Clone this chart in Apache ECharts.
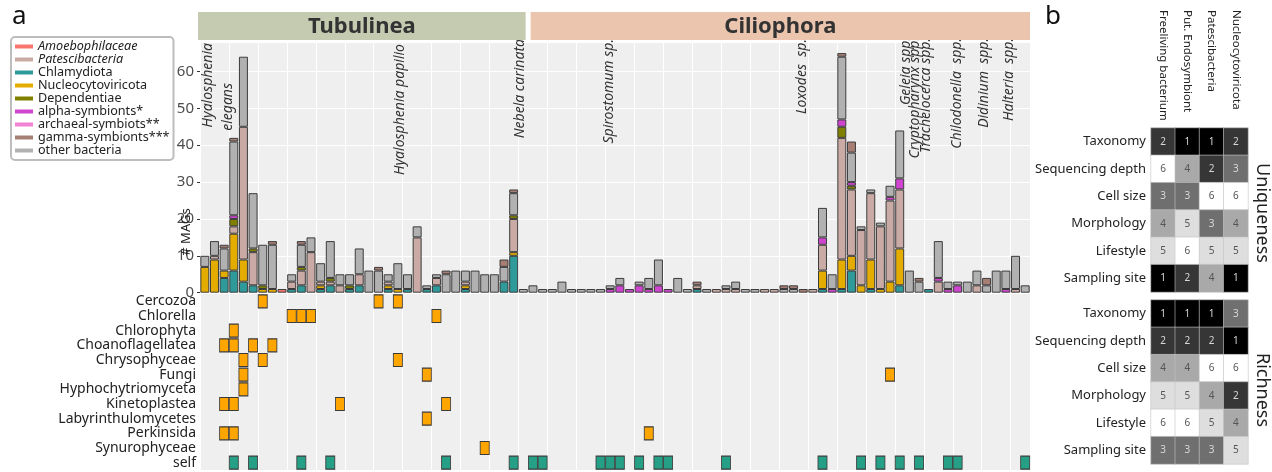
<!DOCTYPE html>
<html>
<head>
<meta charset="utf-8">
<script src="https://cdn.jsdelivr.net/npm/echarts@6/dist/echarts.min.js"></script>
<style>
  html, body { margin: 0; padding: 0; background: #fff; }
  #chart { width: 1272px; height: 472px; }
</style>
</head>
<body>
<div id="chart"></div>
<script>
// ---- panel a: MAG counts per sample (86 samples) ----
const samples = Array.from({ length: 86 }, (_, i) => 'S' + (i + 1));

const amoebophilaceae = [0,0,0,0,0,0,0,0,1,0, 0,0,0,0,0,0,0,0,0,0, 0,0,0,0,0,0,0,0,0,0, 0,0,0,0,0,0,0,0,0,0,
  0,0,0,0,0,0,0,0,0,0, 0,0,0,0,0,0,0,0,0,0, 0,0,0,0,0,0,0,0,0,0, 0,0,0,0,0,0,0,0,0,0, 0,0,0,0,0,0];
const chlamydiota = [0,0,4,6,3,2,0,0,0,1, 2,0,1,2,0,1,2,0,0,1, 0,1,0,1,2,0,0,1,0,0, 0,3,10,0,0,0,0,0,0,0,
  0,0,0,0,0,0,0,0,0,0, 0,1,0,0,0,0,0,0,0,0, 0,0,0,0,1,0,1,6,0,1, 0,0,2,0,0,1,0,0,0,0, 0,0,0,0,0,0];
const nucleocytoviricota = [7,9,2,10,6,0,1,1,0,0, 0,0,1,0,0,0,0,0,0,1, 1,0,0,0,0,0,0,1,0,0, 0,0,1,0,0,0,0,0,0,0,
  0,0,0,0,0,0,0,0,0,0, 0,0,0,0,0,0,0,0,0,0, 0,0,0,0,5,0,8,4,2,8, 1,3,10,0,0,0,0,0,0,0, 0,0,0,0,0,0];
const patescibacteria = [0,1,0,2,36,9,0,0,0,2, 4,11,1,1,2,0,3,0,0,1, 0,0,15,0,2,0,0,1,0,0, 0,0,9,0,0,0,0,0,0,0,
  0,0,0,0,0,0,0,0,0,0, 0,1,0,1,1,1,0,0,1,1, 0,0,0,1,7,0,33,18,15,18, 17,22,16,0,0,0,3,0,0,0, 2,0,0,0,1,0];
const dependentiae = [0,0,0,2,0,1,1,0,0,0, 1,0,0,1,0,1,0,0,0,0, 0,0,0,0,0,0,0,0,0,0, 0,0,1,0,0,0,0,0,0,0,
  0,0,0,0,0,0,0,0,0,0, 0,0,0,0,0,0,0,0,0,0, 0,0,0,0,0,0,3,1,0,0, 0,0,0,0,0,0,0,0,0,0, 0,0,0,0,0,0];
const alphaSymbionts = [0,0,0,1,0,0,0,0,0,0, 0,0,0,0,0,0,0,0,0,0, 0,0,0,0,0,0,0,0,0,0, 0,0,0,0,0,0,0,0,0,0,
  0,0,1,2,1,2,1,2,1,0, 0,0,0,0,0,0,0,0,0,0, 0,0,0,0,2,1,2,1,0,0, 0,1,3,0,0,0,1,1,2,0, 0,0,0,1,0,0];
const archaealSymbionts = [0,0,0,0,0,0,0,0,0,0, 0,0,0,0,0,0,0,0,0,0, 0,0,0,0,0,0,0,0,0,0, 0,0,0,0,0,0,0,0,0,0,
  0,0,0,0,0,0,0,0,0,0, 0,0,0,0,0,0,0,0,0,0, 0,0,0,0,0,0,0,0,0,0, 0,0,0,0,0,0,0,0,0,0, 0,0,0,0,0,0];
const otherBacteria = [3,4,6,20,19,15,11,12,0,2, 6,4,5,10,3,3,7,6,6,2, 7,4,3,1,1,5,6,3,6,5, 5,4,6,1,2,1,1,3,1,1,
  1,1,1,2,0,1,3,7,0,4, 1,0,1,0,1,2,1,1,0,0, 1,1,0,0,8,4,17,8,1,1, 1,3,13,6,3,0,10,2,1,3, 4,2,6,5,9,2];
const gammaSymbionts = [0,0,1,1,0,0,0,1,0,0, 1,0,0,0,0,0,0,0,1,0, 0,0,0,0,0,1,0,0,0,0, 0,2,1,0,0,0,0,0,0,0,
  0,0,0,0,0,0,0,0,0,0, 0,1,0,0,0,0,0,0,0,0, 1,1,1,0,0,0,1,3,0,0, 0,0,0,0,1,0,0,0,0,0, 0,2,0,0,0,0];

const yTicks = [0, 10, 20, 30, 40, 50, 60];

// host groups: first and last sample index of each group
const groups = [
  { name: 'Tubulinea', from: 0, to: 33, color: '#c5cbb1' },
  { name: 'Ciliophora', from: 34, to: 85, color: '#ebc5ad' }
];

// species labels: position as (fractional) sample index, top pixel of text
const speciesLabels = [
  { text: 'Hyalosphenia', pos: 0.35, top: 43 },
  { text: 'elegans', pos: 2.4, top: 83 },
  { text: 'Hyalosphenia papilio', pos: 20.2, top: 44 },
  { text: 'Nebela carinata', pos: 32.7, top: 39 },
  { text: 'Spirostomum sp.', pos: 41.9, top: 39 },
  { text: 'Loxodes  sp.', pos: 61.9, top: 39 },
  { text: 'Geleia spp.', pos: 72.65, top: 37 },
  { text: 'Cryptopharynx spp.', pos: 73.6, top: 37 },
  { text: 'Trachelocerca spp.', pos: 74.7, top: 38 },
  { text: 'Chilodonella  spp.', pos: 77.9, top: 38 },
  { text: 'Didinium  spp.', pos: 80.7, top: 38 },
  { text: 'Halteria  spp.', pos: 83.3, top: 38 }
];

// co-occurring eukaryotes / self: sample indices (0-based)
const partners = ['Cercozoa','Chlorella','Chlorophyta','Choanoflagellatea','Chrysophyceae','Fungi',
  'Hyphochytriomyceta','Kinetoplastea','Labyrinthulomycetes','Perkinsida','Synurophyceae','self'];
const cercozoa = [6, 18, 20];
const chlorella = [9, 10, 11, 24];
const chlorophyta = [3];
const choanoflagellatea = [2, 3, 5, 7];
const chrysophyceae = [4, 6, 20];
const fungi = [4, 23, 71];
const hyphochytriomyceta = [4];
const kinetoplastea = [2, 3, 14, 25];
const labyrinthulomycetes = [23];
const perkinsida = [2, 3, 46];
const synurophyceae = [29];
const self = [3, 5, 10, 13, 25, 32, 34, 35, 41, 42, 43, 45, 47, 48, 54, 64, 68, 70, 72, 74, 77, 78, 85];

// ---- panel b: ranks ----
const mags = ['Freeliving bacterium', 'Put. Endosymbiont', 'Patescibacteria', 'Nucleocytoviricota'];
const criteria = ['Taxonomy', 'Sequencing depth', 'Cell size', 'Morphology', 'Lifestyle', 'Sampling site'];
const uniqueness = [[2,1,1,2],[6,4,2,3],[3,3,6,6],[4,5,3,4],[5,6,5,5],[1,2,4,1]];
const richness = [[1,1,1,3],[2,2,2,1],[4,4,6,6],[5,5,4,2],[6,6,5,4],[3,3,3,5]];

// ---------------------------------------------------------------------
const FONT = 'Noto Sans';
const stackDefs = [
  ['Amoebophilaceae', amoebophilaceae, '#f8766d'],
  ['Chlamydiota', chlamydiota, '#2e9a9a'],
  ['Nucleocytoviricota', nucleocytoviricota, '#e5ac00'],
  ['Patescibacteria', patescibacteria, '#c9aaa4'],
  ['Dependentiae', dependentiae, '#808000'],
  ['alpha-symbionts*', alphaSymbionts, '#d045d0'],
  ['archaeal-symbiots**', archaealSymbionts, '#f283d4'],
  ['other bacteria', otherBacteria, '#b1b1b1'],
  ['gamma-symbionts***', gammaSymbionts, '#a77e74']
];
const legendOrder = ['Amoebophilaceae', 'Patescibacteria', 'Chlamydiota', 'Nucleocytoviricota', 'Dependentiae',
  'alpha-symbionts*', 'archaeal-symbiots**', 'gamma-symbionts***', 'other bacteria'];

const barSeries = stackDefs.map(([name, vals, color]) => ({
  name: name,
  type: 'bar',
  stack: 'mags',
  xAxisIndex: 0,
  yAxisIndex: 0,
  barCategoryGap: '7%',
  data: vals.map(v => (v === 0 ? '-' : v)),
  itemStyle: { color: color, borderColor: '#3c3c3c', borderWidth: 1 }
}));

const partnerLists = [cercozoa, chlorella, chlorophyta, choanoflagellatea, chrysophyceae, fungi,
  hyphochytriomyceta, kinetoplastea, labyrinthulomycetes, perkinsida, synurophyceae, self];
const taxaPoints = [];
const selfPoints = [];
partnerLists.forEach((list, r) => {
  list.forEach(c => (partners[r] === 'self' ? selfPoints : taxaPoints).push([c, partners[r]]));
});

function rankCells(mat) {
  const out = [];
  mat.forEach((row, r) => row.forEach((v, c) => out.push([c, r, v])));
  return out;
}
const rankGrays = ['#000000', '#363636', '#6f6f6f', '#a9a9a9', '#dedede', '#ffffff'];

const GL = 200, GW = 830;

const heatCommon = {
  type: 'heatmap',
  itemStyle: { borderColor: '#c4c4c4', borderWidth: 0.6 },
  label: {
    show: true,
    fontSize: 10,
    formatter: p => (p.value[2] <= 3 ? '{l|' : '{d|') + p.value[2] + '}',
    rich: { l: { color: '#d8d8d8', fontSize: 10 }, d: { color: '#555', fontSize: 10 } }
  },
  emphasis: { disabled: true }
};

const chart = echarts.init(document.getElementById('chart'));
chart.setOption({
  animation: false,
  textStyle: { fontFamily: FONT },
  legend: {
    orient: 'vertical',
    left: 11,
    top: 37,
    itemWidth: 18,
    itemHeight: 4,
    itemGap: 0,
    padding: [3, 4, 3, 4],
    borderColor: '#bdbdbd',
    borderWidth: 2,
    borderRadius: 4,
    backgroundColor: '#fff',
    icon: 'rect',
    itemStyle: { borderWidth: 0 },
    textStyle: { fontSize: 12.6, color: '#222', lineHeight: 12.4, fontFamily: FONT },
    data: legendOrder.map((n, i) => ({ name: n, textStyle: i < 2 ? { fontStyle: 'italic' } : {} })),
    z: 10
  },
  visualMap: {
    type: 'piecewise',
    show: false,
    dimension: 2,
    seriesIndex: [stackDefs.length + 2, stackDefs.length + 3],
    pieces: rankGrays.map((c, i) => ({ value: i + 1, color: c }))
  },
  grid: [
    { left: GL, width: GW, top: 42, height: 250.7, show: true, backgroundColor: '#efefef', borderWidth: 0, outerBoundsMode: 'none' },
    { left: GL, width: GW, top: 294, height: 176, show: true, backgroundColor: '#efefef', borderWidth: 0, outerBoundsMode: 'none' },
    { left: 1151, width: 97, top: 128, height: 164, show: false, outerBoundsMode: 'none' },
    { left: 1151, width: 97, top: 300, height: 164, show: false, outerBoundsMode: 'none' }
  ],
  xAxis: [
    { type: 'category', gridIndex: 0, data: samples, axisLabel: { show: false }, axisTick: { show: false },
      axisLine: { show: false }, splitLine: { show: true, lineStyle: { color: '#fff', width: 1 } } },
    { type: 'category', gridIndex: 1, data: samples, axisLabel: { show: false }, axisTick: { show: false },
      axisLine: { show: false }, splitLine: { show: true, lineStyle: { color: '#fff', width: 1 } } },
    { type: 'category', gridIndex: 2, data: mags, position: 'top', axisTick: { show: false }, axisLine: { show: false },
      axisLabel: { show: false } },
    { type: 'category', gridIndex: 3, data: mags, axisLabel: { show: false }, axisTick: { show: false }, axisLine: { show: false } }
  ],
  yAxis: [
    { type: 'value', gridIndex: 0, min: 0, max: 68, interval: 10,
      axisLabel: { fontSize: 15, color: '#4d4d4d', margin: 6, showMaxLabel: false,
        formatter: v => (yTicks.indexOf(v) >= 0 ? String(v) : '') },
      axisTick: { show: true, length: 3, lineStyle: { color: '#333' } },
      axisLine: { show: false },
      splitLine: { show: true, lineStyle: { color: '#fff', width: 1.2 } } },
    { type: 'category', gridIndex: 1, data: partners, inverse: true,
      axisLabel: { fontSize: 14, color: '#222', margin: 4, interval: 0 },
      axisTick: { show: false }, axisLine: { show: false },
      splitLine: { show: false } },
    { type: 'category', gridIndex: 2, data: criteria, inverse: true,
      axisLabel: { fontSize: 13, color: '#222', margin: 5, interval: 0 }, axisTick: { show: false }, axisLine: { show: false } },
    { type: 'category', gridIndex: 3, data: criteria, inverse: true,
      axisLabel: { fontSize: 13, color: '#222', margin: 5, interval: 0 }, axisTick: { show: false }, axisLine: { show: false } }
  ],
  series: barSeries.concat([
    { name: 'partner', type: 'scatter', xAxisIndex: 1, yAxisIndex: 1, data: taxaPoints,
      symbol: 'rect', symbolSize: [9, 13],
      itemStyle: { color: '#ffa500', borderColor: '#3a3a3a', borderWidth: 1, opacity: 1 } },
    { name: 'selfhost', type: 'scatter', xAxisIndex: 1, yAxisIndex: 1, data: selfPoints,
      symbol: 'rect', symbolSize: [9, 13],
      itemStyle: { color: '#25a086', borderColor: '#3a3a3a', borderWidth: 1, opacity: 1 } },
    Object.assign({ name: 'Uniqueness', xAxisIndex: 2, yAxisIndex: 2, data: rankCells(uniqueness) }, heatCommon),
    Object.assign({ name: 'Richness', xAxisIndex: 3, yAxisIndex: 3, data: rankCells(richness) }, heatCommon)
  ])
});

// annotations tied to the axes
const x0 = chart.convertToPixel({ xAxisIndex: 0 }, 0);
const x1 = chart.convertToPixel({ xAxisIndex: 0 }, 1);
const step = x1 - x0;
const posToPx = p => x0 + p * step;

const graphics = [];
speciesLabels.forEach(l => {
  graphics.push({
    type: 'text', x: posToPx(l.pos), y: l.top, rotation: Math.PI / 2, z: 5,
    style: { text: l.text, font: 'italic 14px "Noto Sans"', fill: '#333', align: 'right', verticalAlign: 'middle' }
  });
});
groups.forEach((g, i) => {
  const left = i === 0 ? GL - 2 : posToPx(g.from - 0.5) + 2.5;
  const right = i === groups.length - 1 ? GL + GW : posToPx(g.to + 0.5) - 2.5;
  graphics.push({
    type: 'rect', shape: { x: left, y: 12, width: right - left, height: 28 }, z: 20,
    style: { fill: g.color }
  });
  graphics.push({
    type: 'text', x: (left + right) / 2, y: 26.5, z: 21,
    style: { text: g.name, font: 'bold 22px "Noto Sans"', fill: '#333', align: 'center', verticalAlign: 'middle' }
  });
});
mags.forEach((m, i) => {
  graphics.push({
    type: 'text', x: chart.convertToPixel({ xAxisIndex: 2 }, i), y: 10, rotation: -Math.PI / 2,
    style: { text: m, font: '11.5px "Noto Sans"', fill: '#222', align: 'left', verticalAlign: 'middle' }
  });
});
graphics.push(
  { type: 'text', x: 186, y: 232, rotation: Math.PI / 2, z: 5,
    style: { text: '# MAGs', font: '13px "Noto Sans"', fill: '#222', align: 'center', verticalAlign: 'middle' } },
  { type: 'text', x: 12, y: 17, style: { text: 'a', font: '26px "Noto Sans"', fill: '#111', verticalAlign: 'middle' } },
  { type: 'text', x: 1045, y: 17, style: { text: 'b', font: '26px "Noto Sans"', fill: '#111', verticalAlign: 'middle' } },
  { type: 'text', x: 1262, y: 213, rotation: -Math.PI / 2,
    style: { text: 'Uniqueness', font: '18px "Noto Sans"', fill: '#222', align: 'center', verticalAlign: 'middle' } },
  { type: 'text', x: 1262, y: 390, rotation: -Math.PI / 2,
    style: { text: 'Richness', font: '18px "Noto Sans"', fill: '#222', align: 'center', verticalAlign: 'middle' } }
);
chart.setOption({ graphic: graphics });
</script>
</body>
</html>
